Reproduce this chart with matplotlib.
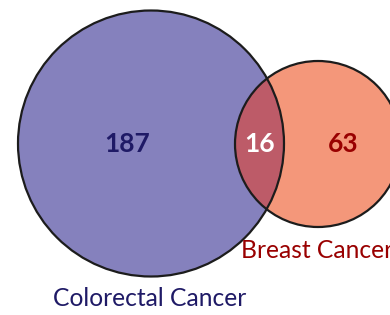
import matplotlib.pyplot as plt
from matplotlib.patches import Circle

# region counts
sets = ["Colorectal Cancer", "Breast Cancer"]
only_left = 187
shared = 16
only_right = 63

left_color = "#8581bd"
right_color = "#f4977a"
both_color = "#bd5b68"

plt.rcParams['font.family'] = ['Lato', 'DejaVu Sans']

fig = plt.figure(figsize=(3.9, 3.15), dpi=100)
ax = fig.add_axes([0, 0, 1, 1])
ax.set_xlim(0, 390)
ax.set_ylim(315, 0)
ax.set_aspect('equal')
ax.axis('off')

# circle layout in pixel coordinates
lc = (151, 143.5)
lr = 133
rc = (318, 144)
rr = 83

ax.add_patch(Circle(lc, lr, facecolor=left_color, edgecolor='none'))
ax.add_patch(Circle(rc, rr, facecolor=right_color, edgecolor='none'))
clip = Circle(lc, lr, transform=ax.transData)
mid = Circle(rc, rr, facecolor=both_color, edgecolor='none')
ax.add_patch(mid)
mid.set_clip_path(clip)
ax.add_patch(Circle(lc, lr, facecolor='none', edgecolor='#1c1c1c', linewidth=1.6))
ax.add_patch(Circle(rc, rr, facecolor='none', edgecolor='#1c1c1c', linewidth=1.6))

ax.text(127, 144, str(only_left), color='#1f1a66', fontsize=19, fontweight='bold',
        ha='center', va='center')
ax.text(260, 144, str(shared), color='white', fontsize=19, fontweight='bold',
        ha='center', va='center')
ax.text(343, 144, str(only_right), color='#990000', fontsize=19, fontweight='bold',
        ha='center', va='center')

ax.text(150, 299, sets[0], color='#1f1a66', fontsize=17.7, ha='center', va='center')
ax.text(241, 250, sets[1], color='#990000', fontsize=17.7, ha='left', va='center')

fig.savefig('out.png', dpi=100)
